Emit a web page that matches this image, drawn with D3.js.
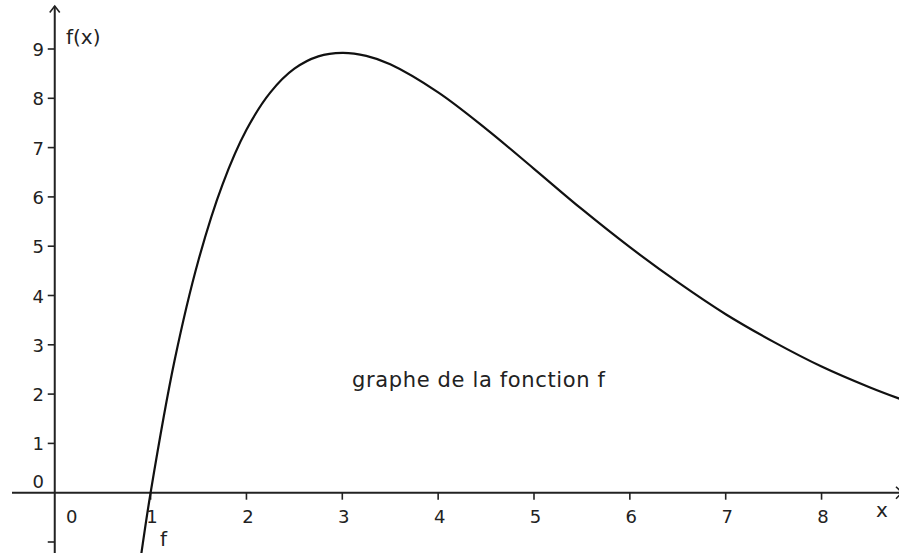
<!DOCTYPE html>
<html>
<head>
<meta charset="utf-8">
<script src="https://cdn.jsdelivr.net/npm/d3@7"></script>
<style>
  body { margin: 0; background: #fff; }
  svg { display: block; font-family: "DejaVu Sans", sans-serif; }
</style>
</head>
<body>
<svg id="chart" width="899" height="553"></svg>
<script>
// values
const xValues = [0.85, 0.9, 1, 1.25, 1.5, 1.75, 2, 2.25, 2.5, 2.75, 3, 3.25, 3.5, 4, 4.5, 5, 5.5, 6, 6.5, 7, 7.5, 8, 8.5, 8.85];
const fValues = [-1.96, -1.28, 0, 2.68, 4.72, 6.25, 7.36, 8.12, 8.6, 8.85, 8.92, 8.86, 8.69, 8.12, 7.38, 6.57, 5.75, 4.98, 4.27, 3.62, 3.06, 2.56, 2.14, 1.88];
const xTicks = [0, 1, 2, 3, 4, 5, 6, 7, 8];
const yTicks = [-1, 0, 1, 2, 3, 4, 5, 6, 7, 8, 9];

const svg = d3.select('#chart');
const width = 899, height = 553;

// x=0 sits at 54.75px, one unit = 95.85px ; y=0 at 492.7px, one unit = 49.3px
const xScale = d3.scaleLinear().domain([0, 8]).range([54.75, 54.75 + 8 * 95.85]);
const yScale = d3.scaleLinear().domain([0, 9]).range([492.7, 492.7 - 9 * 49.3]);

const axisColor = '#222';

// x axis line
svg.append('line')
  .attr('x1', 12).attr('x2', width + 4)
  .attr('y1', yScale(0)).attr('y2', yScale(0))
  .attr('stroke', axisColor).attr('stroke-width', 2);
// x arrow (cut by the edge)
svg.append('path')
  .attr('d', `M${width - 3},${yScale(0) - 6} L${width + 3},${yScale(0)} L${width - 3},${yScale(0) + 6}`)
  .attr('fill', 'none').attr('stroke', axisColor).attr('stroke-width', 1.6);

// y axis line
svg.append('line')
  .attr('x1', xScale(0)).attr('x2', xScale(0))
  .attr('y1', height).attr('y2', 6)
  .attr('stroke', axisColor).attr('stroke-width', 2);
svg.append('path')
  .attr('d', `M${xScale(0) - 5},${12.5} L${xScale(0)},${6} L${xScale(0) + 5},${12.5}`)
  .attr('fill', 'none').attr('stroke', axisColor).attr('stroke-width', 1.6);

// x ticks
const xt = svg.append('g');
xTicks.filter(d => d > 0).forEach(d => {
  xt.append('line')
    .attr('x1', xScale(d)).attr('x2', xScale(d))
    .attr('y1', yScale(0)).attr('y2', yScale(0) + 7)
    .attr('stroke', axisColor).attr('stroke-width', 1.6);
});
xt.selectAll('text').data(xTicks).enter().append('text')
  .attr('x', d => d === 0 ? xScale(0) + 17 : xScale(d) + 1.5)
  .attr('y', yScale(0) + 30)
  .attr('text-anchor', 'middle')
  .attr('font-size', 18)
  .attr('fill', '#222')
  .text(d => d);

// y ticks
const yt = svg.append('g');
yTicks.filter(d => d !== 0).forEach(d => {
  yt.append('line')
    .attr('x1', xScale(0) - 7).attr('x2', xScale(0))
    .attr('y1', yScale(d)).attr('y2', yScale(d))
    .attr('stroke', axisColor).attr('stroke-width', 1.6);
});
yt.selectAll('text').data(yTicks.filter(d => d >= 0)).enter().append('text')
  .attr('x', 44)
  .attr('y', d => d === 0 ? yScale(0) - 5 : yScale(d) + 7)
  .attr('text-anchor', 'end')
  .attr('font-size', 18)
  .attr('fill', '#222')
  .text(d => d);

// curve
const line = d3.line()
  .x((d, i) => xScale(xValues[i]))
  .y(d => yScale(d))
  .curve(d3.curveCatmullRom);

svg.append('path')
  .datum(fValues)
  .attr('d', line)
  .attr('fill', 'none')
  .attr('stroke', '#111')
  .attr('stroke-width', 2.2);

// labels
svg.append('text').attr('x', 66).attr('y', 44).attr('font-size', 20).attr('fill', '#222').text('f(x)');
svg.append('text').attr('x', 876).attr('y', 517).attr('font-size', 20).attr('fill', '#222').text('x');
svg.append('text').attr('x', 160).attr('y', 546).attr('font-size', 20).attr('fill', '#222').text('f');
svg.append('text').attr('x', 352).attr('y', 387).attr('font-size', 21).attr('fill', '#222')
  .attr('textLength', 253)
  .text('graphe de la fonction f');
</script>
</body>
</html>
